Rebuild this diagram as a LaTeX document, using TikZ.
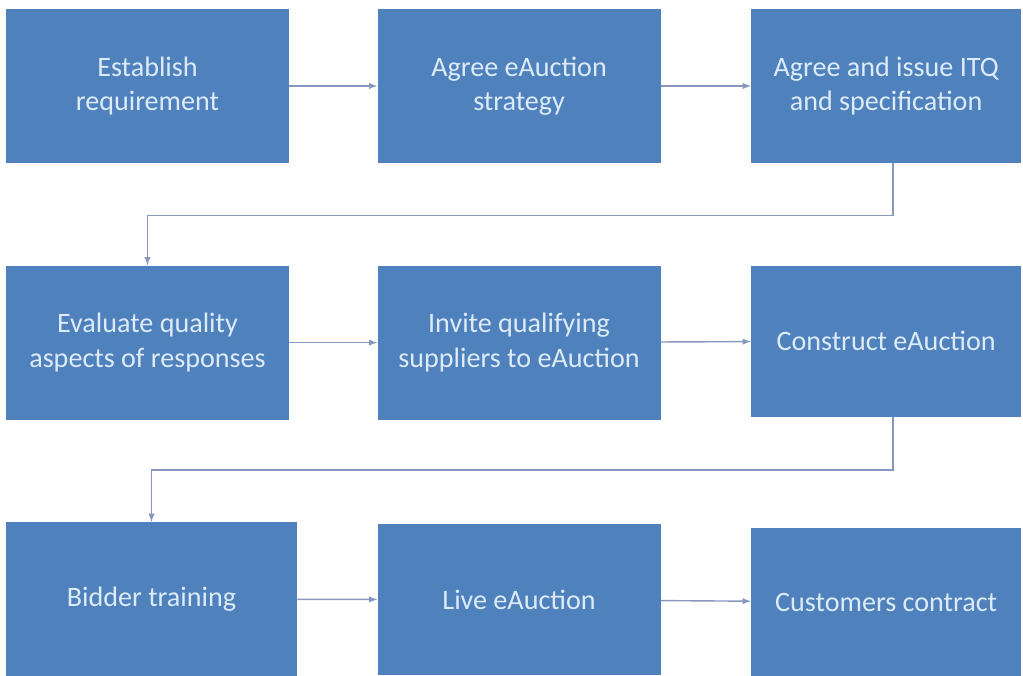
\documentclass[tikz,border=0pt]{standalone}
\usepackage{fontspec}
\setmainfont{Carlito}
\usetikzlibrary{arrows, positioning}
\definecolor{boxblue}{HTML}{4F81BD}
\definecolor{boxtext}{HTML}{DDEBF9}
\definecolor{linkcol}{HTML}{8797BE}
\tikzstyle{stage} = [rectangle, minimum width=7.075cm, minimum height=3.85cm, text centered, align=center, fill=boxblue, text=boxtext, font=\fontsize{20}{24.5}\selectfont]
\tikzstyle{stagenarrow} = [stage, minimum width=6.75cm]
\tikzstyle{arrow} = [line width=1pt, draw=linkcol, ->, >=latex]

\begin{document}
\begin{tikzpicture}[node distance=2.55cm and 2.2cm]
\useasboundingbox (-3.6875,2.15) rectangle (21.8875,-14.75);
\node (establish) [stage] at (0,0) {Establish\\requirement};
\node (strategy) [stage, right=of establish] {Agree eAuction\\strategy};
\node (itq) [stagenarrow, right=2.25cm of strategy] {Agree and issue ITQ\\and specification};
\node (evaluate) [stage, below=of establish] {Evaluate quality\\aspects of responses};
\node (invite) [stage, below=of strategy] {Invite qualifying\\suppliers to eAuction};
\node (construct) [stagenarrow, below=of itq, minimum height=3.775cm] {Construct eAuction};
\node (training) [stage, below=of evaluate, minimum width=7.275cm, xshift=0.1cm] {Bidder training};
\node (live) [stage, below=of invite, minimum height=3.775cm, yshift=-0.05cm] {Live eAuction};
\node (contract) [stagenarrow, below=of construct, minimum height=3.7cm, yshift=-0.225cm] {Customers contract};

\draw[arrow] (establish) -- (strategy);
\draw[arrow] (strategy) -- (itq);
\draw[arrow] (itq.south) ++(0.175,0) coordinate (itqout) -- ++(0,-1.3) -| (evaluate.north);
\draw[arrow] (evaluate) -- (invite);
\draw[arrow] (invite) -- (construct);
\draw[arrow] (construct.south) ++(0.175,0) coordinate (constructout) -- ++(0,-1.325) -| (training.north);
\draw[arrow] (training) -- (live);
\draw[arrow] (live) -- (contract);
\end{tikzpicture}
\end{document}
